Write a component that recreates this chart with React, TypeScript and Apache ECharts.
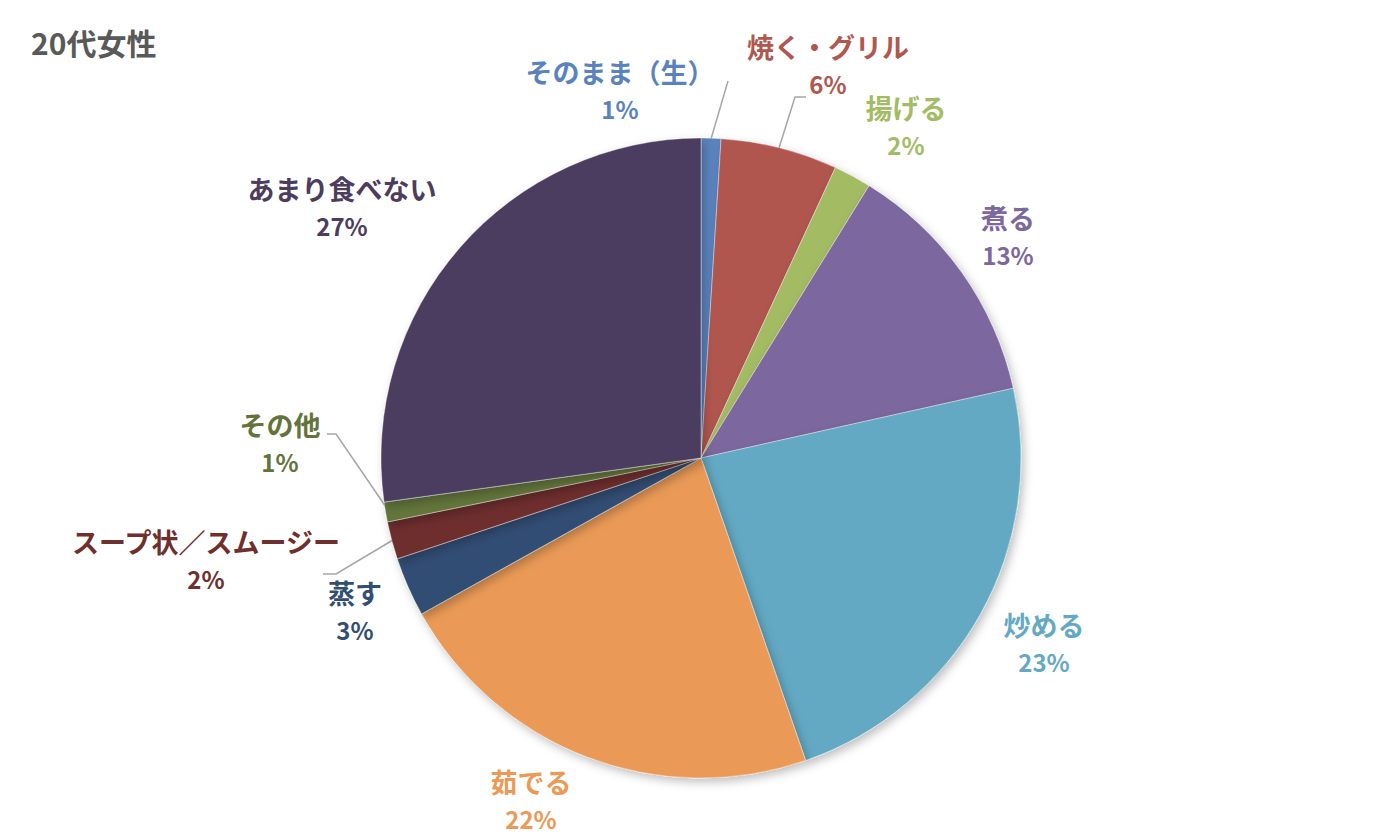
import { useEffect, useRef } from "react";
import * as echarts from "echarts";

const title = "20代女性";

const categories = [
  "そのまま（生）",
  "焼く・グリル",
  "揚げる",
  "煮る",
  "炒める",
  "茹でる",
  "蒸す",
  "スープ状／スムージー",
  "その他",
  "あまり食べない",
];

// share of answers (%)
const values = [1, 5.9, 1.9, 12.7, 23.2, 22.2, 3, 1.9, 1, 27.2];

const colors = [
  "#5A83BE",
  "#B0574F",
  "#A3BB64",
  "#7C679E",
  "#64A9C3",
  "#EA9A56",
  "#324E73",
  "#6E2F2D",
  "#62743A",
  "#4C3C5E",
];

const FONT = '"Noto Sans CJK JP", "Noto Sans", sans-serif';

// label block centres (px) as Excel placed them, plus leader lines for the small slices
const labelSpots: Array<[number, number]> = [
  [620, 90],
  [828, 65],
  [906, 126],
  [1008, 236],
  [1044, 643],
  [531, 800],
  [355, 611],
  [206, 560],
  [280, 443],
  [342, 207],
];

const leaderLines: Record<number, number[][]> = {
  0: [
    [711, 139],
    [728, 81],
  ],
  1: [
    [779, 148],
    [795, 97],
    [806, 97],
  ],
  7: [
    [393, 540],
    [336, 574],
    [323, 574],
  ],
  8: [
    [386, 507],
    [336, 434],
    [327, 434],
  ],
};

export default function App() {
  const ref = useRef<HTMLDivElement>(null);

  useEffect(() => {
    if (!ref.current) return;
    const chart = echarts.init(ref.current, undefined, { renderer: "svg" });

    const data = categories.map((name, i) => ({
      name,
      value: values[i],
      itemStyle: { color: colors[i] },
      label: {
        rich: {
          n: {
            color: colors[i],
            fontSize: 27,
            fontWeight: "bold",
            fontFamily: FONT,
            lineHeight: 37,
          },
          p: {
            color: colors[i],
            fontSize: 24,
            fontWeight: "bold",
            fontFamily: FONT,
            lineHeight: 37,
          },
        },
      },
      labelLine: { show: leaderLines[i] !== undefined },
    }));

    chart.setOption({
      animation: false,
      title: {
        text: title,
        left: 26,
        top: 22,
        textStyle: {
          fontSize: 30,
          fontWeight: "bold",
          color: "#595959",
          fontFamily: FONT,
        },
      },
      series: [
        {
          type: "pie",
          center: [701, 458],
          radius: 320,
          startAngle: 90,
          clockwise: true,
          percentPrecision: 0,
          data,
          itemStyle: {
            borderColor: "rgba(255,255,255,0.6)",
            borderWidth: 0.6,
            shadowBlur: 10,
            shadowOffsetX: 3,
            shadowOffsetY: 4,
            shadowColor: "rgba(0,0,0,0.25)",
          },
          label: {
            show: true,
            position: "outside",
            formatter: "{n|{b}}\n{p|{d}%}",
          },
          labelLine: {
            lineStyle: { color: "#A6A6A6", width: 1.5 },
            smooth: false,
          },
          labelLayout: (params: any) => {
            const i = params.dataIndex;
            const [x, y] = labelSpots[i];
            const out: any = { x, y, align: "center", verticalAlign: "middle" };
            if (leaderLines[i]) out.labelLinePoints = leaderLines[i];
            return out;
          },
          emphasis: { disabled: true },
        },
      ],
    });

    return () => chart.dispose();
  }, []);

  return (
    <div
      ref={ref}
      style={{
        position: "absolute",
        left: 0,
        top: 0,
        width: 1400,
        height: 840,
        background: "#ffffff",
      }}
    />
  );
}
